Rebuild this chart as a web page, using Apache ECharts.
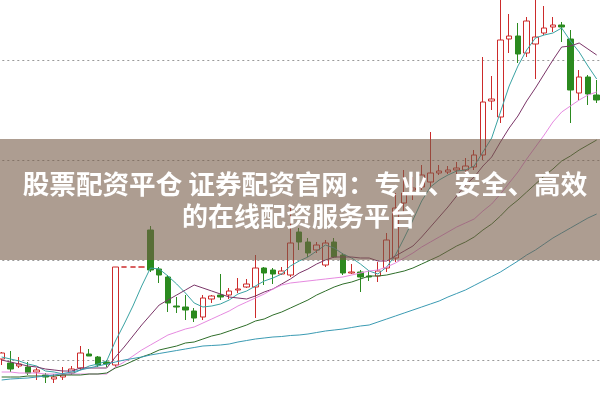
<!DOCTYPE html>
<html><head><meta charset="utf-8">
<script src="https://cdn.jsdelivr.net/npm/echarts@6/dist/echarts.min.js"></script>
<style>html,body{margin:0;padding:0;background:#fff}#c{width:600px;height:400px}</style>
</head><body><div id="c"></div>
<script>
const days = [1,2,3,4,5,6,7,8,9,10,11,12,13,14,15,16,17,18,19,20,21,22,23,24,25,26,27,28,29,30,31,32,33,34,35,36,37,38,39,40,41,42,43,44,45,46,47,48,49,50,51,52,53,54,55,56,57,58,59,60,61,62,63,64,65,66,67,68,69];
// open, close, low, high
const opens  = [6.01,5.97,5.94,5.93,5.88,5.85,5.81,5.83,5.87,5.92,6.06,6.03,5.98,5.95,6.93,6.93,6.93,7.30,6.91,6.83,6.54,6.53,6.49,6.43,6.61,6.65,6.65,6.70,6.73,6.73,6.92,6.90,6.86,6.85,7.28,7.18,7.10,6.95,7.18,7.05,6.87,6.88,6.84,6.84,6.92,7.02,7.57,7.70,7.73,7.78,7.87,7.88,7.90,7.90,7.93,8.05,8.59,8.43,9.21,9.24,9.07,9.16,9.27,9.33,9.35,9.21,8.67,8.83,8.65];
const closes = [6.07,5.91,5.96,5.87,5.90,5.83,5.83,5.85,5.91,6.07,6.04,5.95,5.96,6.93,6.93,6.93,6.93,6.90,6.85,6.57,6.53,6.50,6.42,6.62,6.64,6.63,6.69,6.71,6.76,6.92,6.87,6.86,6.89,7.17,7.18,7.07,7.15,7.17,7.03,6.87,6.88,6.83,6.83,6.89,7.20,7.52,7.67,7.72,7.85,7.87,7.89,7.90,7.92,7.94,8.05,8.58,8.61,9.20,9.24,9.06,9.39,9.23,9.32,9.35,9.33,8.70,8.83,8.66,8.60];
const lows   = [5.95,5.88,5.92,5.85,5.80,5.77,5.77,5.80,5.85,5.90,6.04,5.93,5.93,5.93,6.93,6.93,6.93,6.88,6.77,6.48,6.47,6.40,6.38,6.40,6.57,6.60,6.61,6.67,6.72,6.42,6.75,6.76,6.85,6.83,7.10,7.03,7.07,6.93,7.02,6.85,6.86,6.68,6.79,6.78,6.88,6.98,7.47,7.60,7.70,7.73,7.85,7.86,7.86,7.83,7.90,8.00,8.50,8.37,9.07,8.97,9.03,8.81,9.25,9.28,9.18,8.37,8.60,8.55,8.57];
const highs  = [6.08,6.09,6.03,5.98,5.92,5.87,5.86,5.93,5.94,6.14,6.11,6.04,6.00,6.93,6.93,6.93,6.93,7.34,6.93,6.85,6.63,6.65,6.52,6.65,6.65,6.86,6.72,6.82,6.81,7.05,6.93,6.92,6.93,7.55,7.32,7.22,7.18,7.20,7.22,7.07,6.96,6.90,6.90,6.98,7.27,7.67,7.90,7.83,7.95,8.28,7.95,7.94,7.98,8.02,8.10,9.03,8.84,9.70,9.46,9.37,9.43,9.70,9.54,9.43,9.38,9.30,8.90,8.85,8.80];
const ma5  = [6.03,6.01,5.99,5.96,5.94,5.89,5.88,5.86,5.86,5.90,5.94,5.96,5.99,6.19,6.36,6.54,6.74,6.92,6.91,6.84,6.76,6.67,6.57,6.53,6.54,6.56,6.60,6.66,6.69,6.74,6.79,6.82,6.86,6.94,6.99,7.03,7.09,7.15,7.12,7.06,7.02,6.96,6.89,6.86,6.93,7.05,7.22,7.40,7.59,7.73,7.80,7.85,7.89,7.90,7.94,8.08,8.22,8.48,8.74,8.94,9.10,9.22,9.25,9.27,9.32,9.19,9.08,8.94,8.81];
const ma10 = [6.00,5.98,5.96,5.94,5.93,5.91,5.90,5.89,5.89,5.92,5.92,5.92,5.92,6.03,6.13,6.24,6.35,6.45,6.55,6.60,6.65,6.70,6.75,6.72,6.69,6.66,6.63,6.62,6.61,6.64,6.68,6.71,6.76,6.81,6.87,6.91,6.96,7.00,7.03,7.03,7.03,7.02,7.02,6.99,6.99,7.04,7.09,7.14,7.23,7.33,7.43,7.53,7.64,7.75,7.83,7.94,8.03,8.18,8.32,8.44,8.59,8.72,8.86,9.00,9.13,9.14,9.17,9.11,9.05];
const ma20 = [5.88,5.88,5.87,5.87,5.87,5.86,5.86,5.86,5.86,5.86,5.86,5.86,5.86,5.93,5.98,6.04,6.10,6.15,6.20,6.25,6.28,6.31,6.33,6.37,6.41,6.45,6.49,6.54,6.58,6.62,6.66,6.71,6.75,6.77,6.78,6.79,6.80,6.81,6.82,6.83,6.85,6.87,6.89,6.90,6.93,6.97,7.02,7.07,7.13,7.18,7.23,7.28,7.33,7.37,7.41,7.49,7.56,7.66,7.77,7.88,8.01,8.13,8.25,8.38,8.48,8.54,8.60,8.65,8.68];
const ma30 = [5.83,5.83,5.83,5.84,5.84,5.84,5.84,5.85,5.85,5.85,5.86,5.86,5.87,5.92,5.95,5.99,6.03,6.06,6.10,6.12,6.14,6.17,6.18,6.21,6.24,6.26,6.29,6.32,6.35,6.39,6.41,6.45,6.48,6.52,6.56,6.60,6.65,6.69,6.73,6.76,6.78,6.81,6.84,6.84,6.85,6.87,6.89,6.92,6.96,7.00,7.04,7.09,7.14,7.18,7.23,7.30,7.36,7.44,7.53,7.60,7.68,7.76,7.84,7.91,7.99,8.04,8.10,8.15,8.20];
const ma60 = [5.80,5.81,5.815,5.82,5.83,5.84,5.85,5.865,5.88,5.90,5.92,5.94,5.96,5.98,6.00,6.015,6.03,6.05,6.065,6.08,6.095,6.11,6.125,6.14,6.145,6.15,6.16,6.18,6.195,6.21,6.22,6.23,6.235,6.245,6.25,6.26,6.275,6.29,6.30,6.31,6.325,6.34,6.35,6.38,6.41,6.44,6.47,6.50,6.53,6.56,6.59,6.63,6.665,6.70,6.745,6.79,6.835,6.88,6.935,6.99,7.05,7.10,7.16,7.22,7.27,7.32,7.37,7.42,7.46];
const titleLine1 = '股票配资平仓 证券配资官网：专业、安全、高效';
const titleLine2 = '的在线配资服务平台';

const kdata = opens.map((o, i) => [o, closes[i], lows[i], highs[i]]);
const chart = echarts.init(document.getElementById('c'), null, {renderer: 'canvas'});
const lineS = (name, data, color) => ({
  name, type: 'line', data, symbol: 'none', smooth: false, animation: false,
  lineStyle: {width: 1, color}, z: 3
});
chart.setOption({
  animation: false,
  backgroundColor: '#ffffff',
  grid: {left: -2.7, right: -1.05, top: -40, bottom: -60, containLabel: false, outerBoundsMode: 'none'},
  xAxis: {type: 'category', data: days, boundaryGap: true, show: false},
  yAxis: {type: 'value', min: 5, max: 10, interval: 1,
    axisLine: {show: false}, axisTick: {show: false}, axisLabel: {show: false},
    splitLine: {show: true, lineStyle: {color: '#9a9a9a', type: [2, 3], width: 1}}},
  series: [
    {type: 'candlestick', data: kdata, barWidth: 6, clip: false,
      itemStyle: {color: 'rgba(255,255,255,0)', color0: '#2b8a1f', borderColor: '#cc2b2b', borderColor0: '#2b8a1f', borderWidth: 1}},
    lineS('MA5', ma5, '#3aa3a3'),
    lineS('MA10', ma10, '#7b3568'),
    lineS('MA20', ma20, '#e68ae0'),
    lineS('MA30', ma30, '#2f6e2a'),
    lineS('MA60', ma60, '#3b9bb3')
  ],
  graphic: [
    {type: 'rect', z: 100, shape: {x: 0, y: 139, width: 600, height: 121},
      style: {fill: 'rgba(118,92,72,0.6)'}},
    {type: 'text', z: 101, x: 305, y: 184,
      style: {text: titleLine1, fill: '#ffffff', font: 'bold 26.6px "Noto Sans CJK SC"', textAlign: 'center', textVerticalAlign: 'middle'}},
    {type: 'text', z: 101, x: 299, y: 216,
      style: {text: titleLine2, fill: '#ffffff', font: 'bold 26px "Noto Sans CJK SC"', textAlign: 'center', textVerticalAlign: 'middle'}}
  ]
});
</script></body></html>
